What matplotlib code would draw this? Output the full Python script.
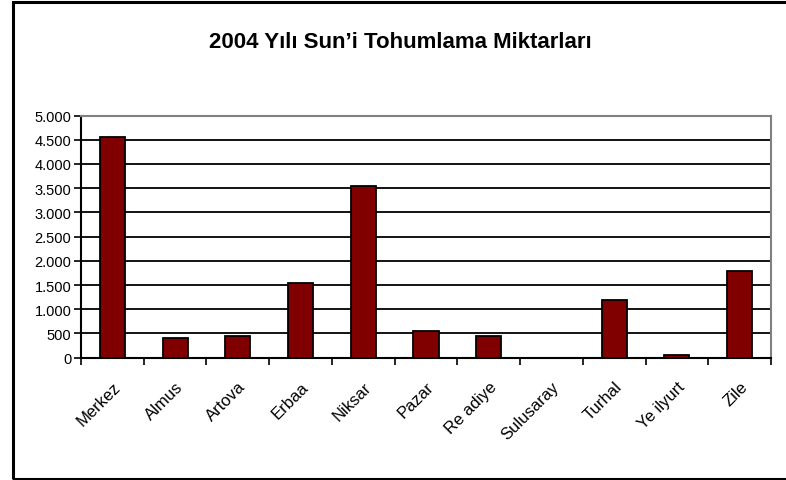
import matplotlib
matplotlib.use("Agg")
import matplotlib.pyplot as plt
from matplotlib.ticker import FixedLocator, FuncFormatter
from matplotlib.patches import Rectangle
import numpy as np

plt.rcParams['font.family'] = ['Liberation Sans', 'DejaVu Sans']

title = "2004 Yılı Sun’i Tohumlama Miktarları"
categories = ["Merkez", "Almus", "Artova", "Erbaa", "Niksar", "Pazar",
              "Re adiye", "Sulusaray", "Turhal", "Ye ilyurt", "Zile"]
values = [4550, 400, 450, 1550, 3550, 550, 450, 0, 1200, 50, 1800]
yticks = [0, 500, 1000, 1500, 2000, 2500, 3000, 3500, 4000, 4500, 5000]

W, H = 786, 481
fig = plt.figure(figsize=(W / 100, H / 100), dpi=100)
fig.patch.set_facecolor("white")

# outer chart frame
fig.patches.append(Rectangle((13 / W, 1 - 480 / H), 1.2, (480 - 2.5) / H,
                             transform=fig.transFigure, fill=False,
                             edgecolor="black", linewidth=2.2, zorder=0))

ax = fig.add_axes([81 / W, 1 - 358.7 / H, (771 - 81) / W, (358.7 - 116.5) / H])

x = np.arange(len(categories))
ax.bar(x, values, width=0.4, color="#800000", edgecolor="black",
       linewidth=1.3, zorder=3)

ax.set_xlim(-0.5, len(categories) - 0.5)
ax.set_ylim(0, 5000)

ax.yaxis.set_major_locator(FixedLocator(yticks))
ax.yaxis.set_major_formatter(FuncFormatter(lambda v, p: f"{int(v):,}".replace(",", ".")))
for t in yticks[1:-1]:
    ax.axhline(t, color="black", linewidth=1.3, zorder=1)

ax.set_xticks(x)
ax.set_xticklabels(categories, rotation=45, ha="right", rotation_mode="anchor",
                   fontsize=12)
ax.xaxis.set_minor_locator(FixedLocator(np.arange(-0.5, len(categories), 1.0)))
ax.tick_params(axis="x", which="major", length=0, pad=15)
ax.tick_params(axis="x", which="minor", length=5, width=1.2, direction="out", color="black")
ax.tick_params(axis="y", length=5, width=1.2, direction="out", labelsize=10.5, pad=2)

for s in ["left", "bottom"]:
    ax.spines[s].set_color("black")
    ax.spines[s].set_linewidth(1.5)
for s in ["top", "right"]:
    ax.spines[s].set_color("#808080")
    ax.spines[s].set_linewidth(1.5)

fig.text(400 / W, 1 - 42 / H, title, ha="center", va="center",
         fontsize=16, fontweight="bold")

fig.savefig("out.png", dpi=100)
